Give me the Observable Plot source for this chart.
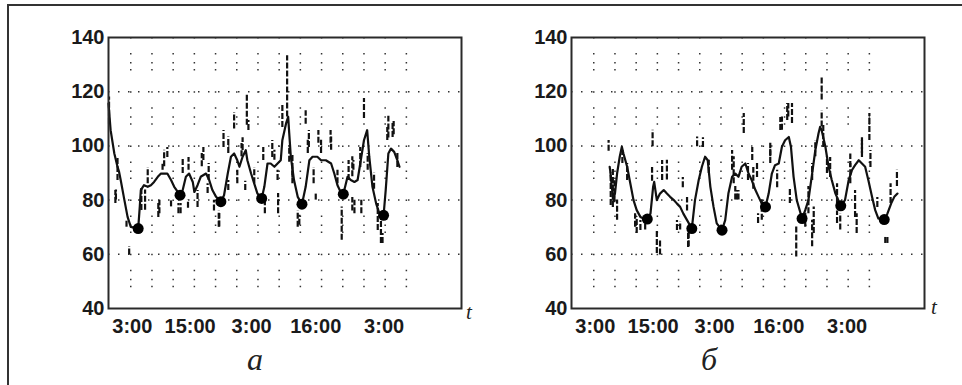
<!DOCTYPE html>
<html><head><meta charset="utf-8">
<script src="https://cdn.jsdelivr.net/npm/d3@7"></script>
<script src="https://cdn.jsdelivr.net/npm/@observablehq/plot@0.6"></script>
<style>
body{margin:0;background:#fff;width:962px;height:385px;overflow:hidden;position:relative;font-family:"Liberation Sans",Arial,sans-serif}
#border{position:absolute;left:7px;top:4px;width:970px;height:400px;border-left:2px solid #333;border-top:2px solid #333}
.panel{position:absolute;top:0}
.t{position:absolute;font-family:"Liberation Serif","Times New Roman",serif;font-style:italic;font-size:21px;line-height:1;color:#222}
.cap{position:absolute;font-family:"Liberation Serif","Times New Roman",serif;font-style:italic;font-size:32px;line-height:1;color:#222;transform:translateX(-50%)}
</style></head><body>
<div id="border"></div>
<div id="pa" class="panel" style="left:0"></div>
<div id="pb" class="panel" style="left:481px"></div>
<div class="t" style="left:466px;top:302px">t</div>
<div class="t" style="left:931px;top:297px">t</div>
<div class="cap" style="left:255px;top:343px">а</div>
<div class="cap" style="left:709px;top:343px">б</div>
<script>
// x in hours (first 3:00 at 3), y in original units
const xDomain = [-1.2, 65.4];
const yTicks = [40, 60, 80, 100, 120, 140];
const gridValues = [60, 80, 100, 120];
const gridHours = [3, 7, 11, 15, 19, 23, 27, 31, 35, 39, 43, 47, 51, 55];
const xTickHours = [3.3, 14.2, 25.8, 37.9, 50.8];
const xTickLabels = ["3:00", "15:00", "3:00", "16:00", "3:00"];

// Panel а
const hoursA = [-1.2,-0.8,-0.1,0.5,0.8,1.1,1.8,2.4,3.0,4.4,4.7,4.9,5.5,6.2,6.8,7.4,8.1,8.7,9.9,10.6,11.2,12.3,12.8,13.4,14.0,14.7,15.0,15.6,16.2,17.2,17.8,18.4,19.1,20.0,20.6,21.3,21.9,22.5,23.1,23.5,24.1,24.7,25.0,25.7,26.3,26.9,27.7,28.2,28.8,29.4,30.1,30.7,31.3,31.6,32.3,32.7,32.9,33.2,33.8,34.5,35.3,36.0,36.7,37.3,38.2,38.9,39.8,40.8,41.4,42.0,42.6,43.1,43.9,44.5,45.2,45.8,46.4,47.0,47.6,48.0,48.6,49.3,49.9,50.7,51.1,51.6,52.1,52.7,53.3,53.7];
const valuesA = [115.6,105.8,97.2,92.3,90.4,87.4,80.0,73.8,70.1,69.5,77.5,83.7,85.5,84.9,85.5,86.7,88.6,89.8,89.8,87.4,84.9,81.8,83.7,88.6,89.8,86.7,83.0,85.5,88.6,89.8,87.4,83.7,81.2,79.4,81.8,89.8,96.0,97.2,94.7,92.3,96.0,98.4,94.7,89.8,86.1,82.4,80.6,84.9,93.5,93.5,92.3,93.5,94.7,102.1,108.3,110.7,104.6,96.0,87.4,81.2,78.5,84.9,94.7,96.0,96.0,94.7,94.7,93.5,89.8,85.5,83.0,82.2,88.6,87.4,86.7,87.4,94.7,102.1,105.8,96.0,84.9,78.7,75.1,74.4,83.7,97.2,99.0,97.8,94.7,92.3];
const spikeHourA = [-1.1,32.5,24.9,47.0,22.5,51.6,52.6,2.7,19.7,42.8,50.2,34.8,12.4,8.4,9.3,16.4,36.4,38.9,40.8,21.4,23.9,30.1,30.8,44.8,45.2,46.5,0.2,5.7,10.6,13.8,28.3,18.7,32.9,33.5,26.3,48.9,
  0.5,0.1,2.2,5.0,6.2,8.2,9.0,9.9,12.0,12.8,13.9,15.6,16.7,17.5,17.7,19.6,20.5,21.4,23.1,24.1,25.2,24.6,28.0,29.7,30.7,31.6,33.5,34.5,36.0,36.6,37.5,38.4,37.9,40.7,42.0,44.1,44.8,45.0,46.3,47.7,49.6,50.5,51.4,52.4,53.3];
const spikeHighA = [118.0,133.3,118.7,117.5,112.3,110.9,109.0,62.9,75.1,77.5,72.6,74.4,78.7,79.9,98.4,97.2,102.1,102.1,103.3,103.3,100.9,98.4,82.4,96.0,79.9,79.9,83.7,83.7,79.9,80.0,79.9,79.9,100.0,92.0,92.0,90.0,
  95.7,83.5,72.5,84.6,92.0,78.7,93.5,99.4,78.7,95.7,95.7,83.5,99.4,86.0,93.5,76.0,105.7,87.2,91.0,103.0,109.4,87.0,99.4,102.0,91.0,115.6,97.2,76.0,113.0,105.7,92.0,105.7,82.4,105.7,91.0,94.6,81.0,94.6,99.4,97.2,78.7,67.7,106.8,108.3,97.2];
const spikeLowA = [108.0,110.7,107.6,110.1,106.2,102.9,104.1,59.7,70.1,65.2,64.0,70.7,75.0,75.0,92.3,92.3,97.2,97.2,98.4,97.2,96.0,94.7,75.0,88.6,75.0,75.0,80.0,76.3,77.5,77.0,75.0,76.0,94.0,86.0,86.0,84.0,
  87.2,78.7,70.0,76.2,86.0,73.6,91.0,95.7,75.0,89.8,91.0,77.3,94.6,82.4,87.2,70.0,99.4,83.5,86.0,98.3,105.7,83.5,94.6,95.7,87.2,106.8,88.3,70.0,108.0,99.4,86.0,101.0,80.0,101.0,86.0,87.2,76.0,91.0,92.0,91.0,68.8,64.0,102.0,103.1,92.0];
const dotHourA = [4.4,12.3,20.0,27.7,35.3,43.1,50.7];
const dotValueA = [69.5,81.8,79.4,80.6,78.5,82.2,74.4];

// Panel б
const hoursB = [6.0,6.1,6.4,6.7,7.0,7.4,7.9,8.3,8.6,9.3,9.9,10.5,11.1,11.8,12.4,13.1,13.7,14.2,14.4,14.9,15.5,16.2,16.8,17.4,18.1,18.7,19.3,19.9,20.6,21.5,22.1,22.8,23.4,24.0,24.5,25.0,25.6,26.2,27.2,27.8,28.4,29.1,29.7,30.3,30.9,31.6,32.2,32.8,33.5,34.1,34.7,35.4,36.0,36.6,37.2,37.9,38.5,39.1,39.8,40.2,40.7,41.3,42.3,42.9,43.5,44.2,44.8,45.4,45.7,46.0,46.7,47.3,47.9,48.6,49.6,50.4,51.1,51.7,52.3,53.0,53.6,54.2,54.8,55.5,56.1,56.7,57.8,58.4,59.1,59.7,60.3];
const valuesB = [92.3,91.0,85.0,80.0,82.4,89.8,96.0,99.7,97.2,92.3,86.1,80.0,76.3,73.8,73.2,73.0,75.0,84.9,86.7,80.0,82.4,83.7,82.4,81.2,80.0,78.7,77.5,75.0,72.6,69.5,80.0,87.4,92.3,96.0,94.7,84.9,77.5,71.4,68.9,72.6,82.4,88.6,89.8,88.6,92.3,93.5,89.8,87.4,83.7,81.2,78.7,77.5,82.4,89.8,92.9,93.5,99.7,102.1,103.3,99.7,88.6,80.0,73.2,76.3,80.0,89.8,98.4,104.6,107.0,105.8,99.7,92.3,87.4,82.4,77.9,80.0,87.4,91.0,92.9,94.7,93.5,92.3,87.4,81.2,76.3,73.2,72.8,75.0,78.7,81.2,82.4];
const spikeHourB = [14.1,46.0,46.0,31.3,39.7,55.0,5.8,7.4,14.9,15.5,20.9,41.2,44.2,52.6,58.0,60.2,22.5,29.4,33.1,34.7,29.7,36.3,38.5,44.8,47.0,49.5,51.4,53.6,11.1,12.7,16.8,19.3,24.7,43.5,44.5,6.2,
  6.6,6.9,8.4,9.3,10.8,11.8,14.0,15.9,18.7,19.8,20.8,20.6,23.6,29.1,30.0,30.3,32.1,32.9,33.8,34.0,36.3,37.6,38.2,39.5,40.0,40.4,42.9,44.2,46.3,47.6,48.9,48.9,51.4,52.3,53.6,55.2,56.5,58.4,59.0];
const spikeHighB = [105.8,125.5,113.0,112.0,115.6,112.0,102.0,80.0,69.0,65.2,68.9,70.1,72.6,75.0,66.4,91.0,103.3,96.0,92.0,80.0,85.0,101.0,110.7,102.0,96.0,75.0,97.0,102.0,73.8,73.8,94.7,72.0,94.7,85.0,77.5,90.0,
  92.0,88.0,98.3,93.5,75.0,72.5,92.0,94.6,72.5,88.3,67.7,81.0,103.0,98.3,83.5,83.5,93.5,99.4,93.5,75.0,99.4,91.0,110.5,115.6,84.6,115.6,76.0,93.5,108.3,95.7,86.0,76.0,93.5,83.5,103.0,98.3,81.0,66.2,86.0];
const spikeLowB = [99.7,116.9,107.0,104.6,110.7,102.0,98.0,72.6,60.3,59.7,62.8,59.0,62.8,67.7,64.0,85.0,99.7,86.0,84.0,72.6,80.0,96.0,105.8,96.0,89.8,69.0,92.0,97.2,67.7,69.0,87.4,69.0,89.8,75.0,67.7,78.0,
  77.3,79.0,93.5,87.2,70.0,68.8,87.0,87.2,68.8,84.6,62.5,76.0,99.4,91.0,80.0,80.0,87.2,94.6,88.3,71.4,93.5,84.6,105.7,109.4,78.7,108.3,70.0,87.2,99.4,88.3,78.7,71.4,86.0,73.6,95.7,92.0,77.3,64.0,78.7];
const dotHourB = [13.1,21.5,27.2,35.4,42.3,49.6,57.8];
const dotValueB = [73.0,69.5,68.9,77.5,73.2,77.9,72.8];

const labelByHour = new Map(xTickHours.map((h, i) => [h, xTickLabels[i]]));

function panel(hours, values, sH, sHi, sLo, dH, dV, ml, mr) {
  const series = hours.map((h, i) => ({h, v: values[i]}));
  const spikes = sH.map((h, i) => ({h, hi: sHi[i], lo: sLo[i]}));
  const dots = dH.map((h, i) => ({h, v: dV[i]}));
  return Plot.plot({
    width: 481, height: 340,
    marginLeft: ml, marginRight: mr, marginTop: 37, marginBottom: 32,
    x: {domain: xDomain},
    y: {domain: [40, 140]},
    style: {fontFamily: "'Liberation Sans', Arial, sans-serif", fontSize: "20px", fontWeight: "bold", color: "#1a1a1a", background: "transparent"},
    marks: [
      Plot.ruleY(gridValues, {stroke: "#333", strokeWidth: 1.5, strokeDasharray: "1.5,8.5"}),
      Plot.ruleX(gridHours, {stroke: "#333", strokeWidth: 1.5, strokeDasharray: "1.5,14.5,1.5,7.5,1.5,5.5,1.5,20.7"}),
      Plot.ruleX(spikes, {x: "h", y1: "lo", y2: "hi", stroke: "#111", strokeWidth: 2.2, strokeDasharray: "6,2"}),
      Plot.line(series, {x: "h", y: "v", stroke: "#111", strokeWidth: 2.2, strokeLinejoin: "round"}),
      Plot.dot(dots, {x: "h", y: "v", r: 5.5, fill: "#000", stroke: "none"}),
      Plot.frame({stroke: "#2a2a2a", strokeWidth: 2}),
      Plot.axisY({ticks: yTicks, tickSize: 0, tickPadding: 4, label: null, fontSize: 20, fontWeight: "bold"}),
      Plot.axisX({ticks: xTickHours, tickFormat: d => labelByHour.get(d), tickSize: 0, tickPadding: 10, label: null, fontSize: 20, fontWeight: "bold"})
    ]
  });
}

document.getElementById("pa").append(panel(hoursA, valuesA, spikeHourA, spikeHighA, spikeLowA, dotHourA, dotValueA, 108, 20));
document.getElementById("pb").append(panel(hoursB, valuesB, spikeHourB, spikeHighB, spikeLowB, dotHourB, dotValueB, 90, 38));
</script>
</body></html>
